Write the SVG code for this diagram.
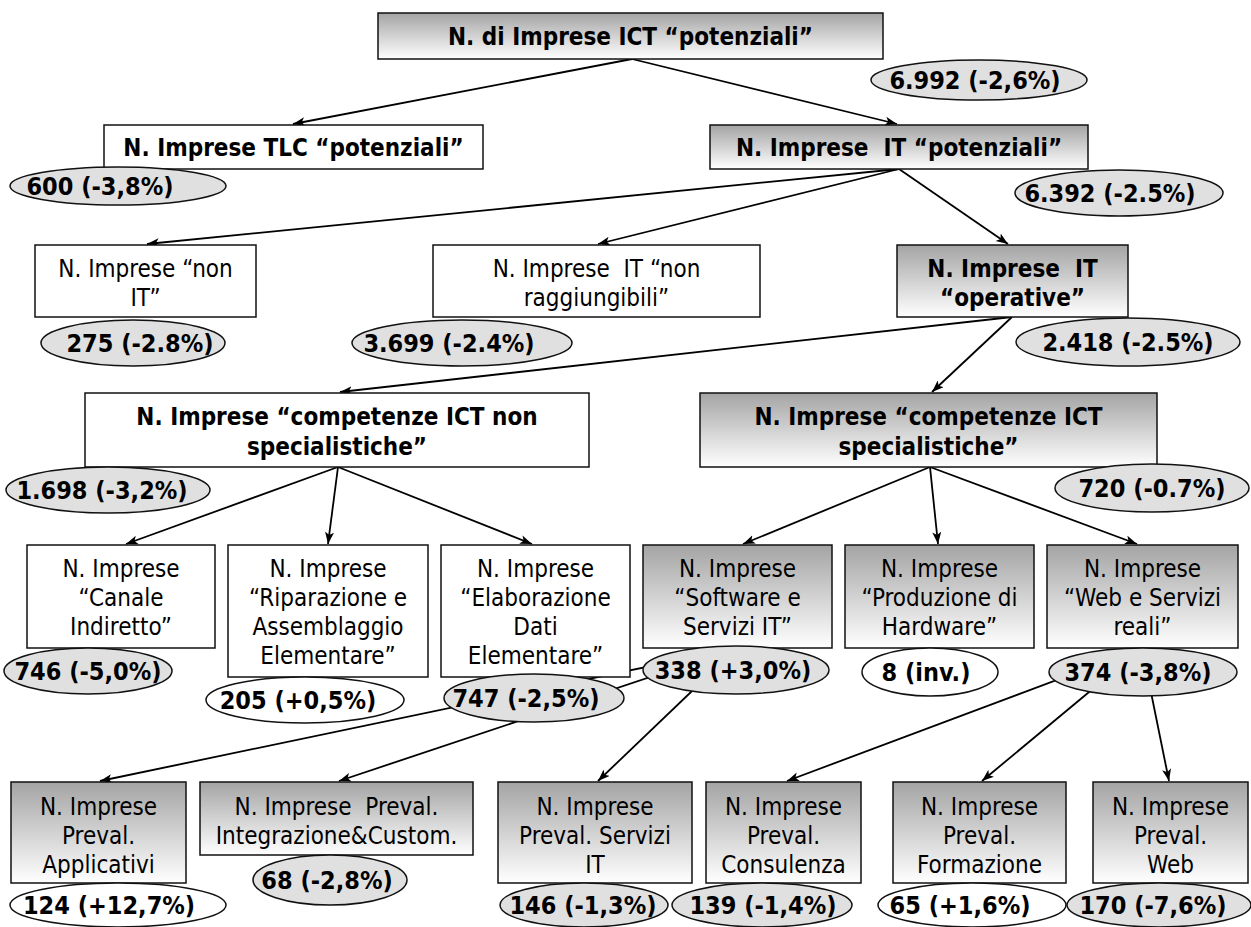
<svg xmlns="http://www.w3.org/2000/svg" width="1251" height="927" viewBox="0 0 1251 927">
<defs>
<linearGradient id="gr" x1="0" y1="0" x2="0" y2="1">
<stop offset="0" stop-color="#a4a4a4"/>
<stop offset="1" stop-color="#ffffff"/>
</linearGradient>
<marker id="ah" markerUnits="userSpaceOnUse" markerWidth="13" markerHeight="10" refX="12" refY="4.5" orient="auto">
<path d="M0,0 L12,4.5 L0,9 L3,4.5 Z" fill="#000"/>
</marker>
<style>
.bx{fill:#fff;stroke:#111;stroke-width:1.5}
.bg{fill:url(#gr);stroke:#111;stroke-width:1.5}
.eg{fill:#e0e0e0;stroke:#111;stroke-width:1.5}
.ew{fill:#fff;stroke:#111;stroke-width:1.5}
.tb{font-family:"DejaVu Sans Condensed","DejaVu Sans",sans-serif;font-stretch:condensed;font-weight:bold;font-size:24px;text-anchor:middle;fill:#000}
.tn{font-family:"DejaVu Sans Condensed","DejaVu Sans",sans-serif;font-stretch:condensed;font-size:24px;text-anchor:middle;fill:#000}
.te{font-family:"DejaVu Sans Condensed","DejaVu Sans",sans-serif;font-stretch:condensed;font-weight:bold;font-size:25px;text-anchor:middle;fill:#000}
.cn line{stroke:#000;stroke-width:1.8;marker-end:url(#ah)}
</style>
</defs>
<rect width="1251" height="927" fill="#fff"/>
<g id="connectors" class="cn">
<line x1="632" y1="59" x2="293" y2="124"/>
<line x1="632" y1="59" x2="897" y2="124"/>
<line x1="899" y1="169" x2="147" y2="244"/>
<line x1="899" y1="169" x2="598" y2="244"/>
<line x1="899" y1="169" x2="1008" y2="244"/>
<line x1="1012" y1="317" x2="340" y2="392"/>
<line x1="1012" y1="317" x2="932" y2="392"/>
<line x1="338" y1="467" x2="126" y2="544"/>
<line x1="338" y1="467" x2="328" y2="544"/>
<line x1="338" y1="467" x2="532" y2="544"/>
<line x1="930" y1="467" x2="743" y2="544"/>
<line x1="930" y1="467" x2="938" y2="544"/>
<line x1="930" y1="467" x2="1137" y2="544"/>
<line x1="737" y1="648" x2="100" y2="781"/>
<line x1="737" y1="648" x2="339" y2="781"/>
<line x1="737" y1="648" x2="598" y2="781"/>
<line x1="1142" y1="648" x2="787" y2="781"/>
<line x1="1142" y1="648" x2="982" y2="781"/>
<line x1="1142" y1="648" x2="1169" y2="781"/>
</g>
<g id="ict">
<rect class="bg" x="378" y="13" width="505" height="46"/>
<text class="tb" x="630.5" y="45">N. di Imprese ICT “potenziali”</text>
<ellipse class="eg" cx="979" cy="80" rx="108" ry="20"/>
<text class="te" x="975" y="89">6.992 (-2,6%)</text>
</g>
<g id="tlc">
<rect class="bx" x="104" y="125" width="379" height="44"/>
<text class="tb" x="293.5" y="156">N. Imprese TLC “potenziali”</text>
<ellipse class="eg" cx="118" cy="186" rx="108" ry="19"/>
<text class="te" x="100" y="195">600 (-3,8%)</text>
</g>
<g id="itpot">
<rect class="bg" x="710" y="125" width="378" height="44"/>
<text class="tb" x="899" y="156">N. Imprese&#160; IT “potenziali”</text>
<ellipse class="eg" cx="1119" cy="193" rx="104" ry="23"/>
<text class="te" x="1110" y="202">6.392 (-2.5%)</text>
</g>
<g id="nonit">
<rect class="bx" x="35" y="245" width="221" height="72"/>
<text class="tn" x="145.5" y="277">N. Imprese “non</text>
<text class="tn" x="145.5" y="306">IT”</text>
<ellipse class="eg" cx="133" cy="343" rx="92" ry="23"/>
<text class="te" x="140" y="352">275 (-2.8%)</text>
</g>
<g id="nonragg">
<rect class="bx" x="433" y="245" width="327" height="72"/>
<text class="tn" x="596.5" y="277">N. Imprese&#160; IT “non</text>
<text class="tn" x="596.5" y="306">raggiungibili”</text>
<ellipse class="eg" cx="462" cy="343" rx="110" ry="23"/>
<text class="te" x="449" y="352">3.699 (-2.4%)</text>
</g>
<g id="operative">
<rect class="bg" x="897" y="245" width="231" height="72"/>
<text class="tb" x="1012.5" y="277">N. Imprese&#160; IT</text>
<text class="tb" x="1012.5" y="306">“operative”</text>
<ellipse class="eg" cx="1128" cy="342" rx="112" ry="24"/>
<text class="te" x="1128" y="351">2.418 (-2.5%)</text>
</g>
<g id="nonspec">
<rect class="bx" x="85" y="393" width="504" height="74"/>
<text class="tb" x="337" y="425">N. Imprese “competenze ICT non</text>
<text class="tb" x="337" y="455">specialistiche”</text>
<ellipse class="eg" cx="108" cy="490" rx="102" ry="23"/>
<text class="te" x="102" y="499">1.698 (-3,2%)</text>
</g>
<g id="spec">
<rect class="bg" x="700" y="393" width="457" height="74"/>
<text class="tb" x="928.5" y="425">N. Imprese “competenze ICT</text>
<text class="tb" x="928.5" y="455">specialistiche”</text>
<ellipse class="eg" cx="1152" cy="488" rx="97" ry="24"/>
<text class="te" x="1152" y="497">720 (-0.7%)</text>
</g>
<g id="canale">
<rect class="bx" x="27" y="545" width="188" height="103"/>
<text class="tn" x="121" y="577">N. Imprese</text>
<text class="tn" x="121" y="606">“Canale</text>
<text class="tn" x="121" y="635">Indiretto”</text>
<ellipse class="eg" cx="88" cy="671" rx="84" ry="23"/>
<text class="te" x="88" y="680">746 (-5,0%)</text>
</g>
<g id="riparazione">
<rect class="bx" x="228" y="545" width="200" height="132"/>
<text class="tn" x="328" y="577">N. Imprese</text>
<text class="tn" x="328" y="606">“Riparazione e</text>
<text class="tn" x="328" y="635">Assemblaggio</text>
<text class="tn" x="328" y="664">Elementare”</text>
<ellipse class="ew" cx="305" cy="700" rx="99" ry="23"/>
<text class="te" x="298" y="709">205 (+0,5%)</text>
</g>
<g id="elaborazione">
<rect class="bx" x="441" y="545" width="189" height="132"/>
<text class="tn" x="535.5" y="577">N. Imprese</text>
<text class="tn" x="535.5" y="606">“Elaborazione</text>
<text class="tn" x="535.5" y="635">Dati</text>
<text class="tn" x="535.5" y="664">Elementare”</text>
<ellipse class="eg" cx="534" cy="698" rx="90" ry="24"/>
<text class="te" x="526" y="707">747 (-2,5%)</text>
</g>
<g id="software">
<rect class="bg" x="643" y="545" width="189" height="103"/>
<text class="tn" x="737.5" y="577">N. Imprese</text>
<text class="tn" x="737.5" y="606">“Software e</text>
<text class="tn" x="737.5" y="635">Servizi IT”</text>
<ellipse class="eg" cx="736" cy="670" rx="93" ry="24"/>
<text class="te" x="733" y="679">338 (+3,0%)</text>
</g>
<g id="hardware">
<rect class="bg" x="845" y="545" width="189" height="103"/>
<text class="tn" x="939.5" y="577">N. Imprese</text>
<text class="tn" x="939.5" y="606">“Produzione di</text>
<text class="tn" x="939.5" y="635">Hardware”</text>
<ellipse class="ew" cx="930" cy="672" rx="68" ry="24"/>
<text class="te" x="926" y="681">8 (inv.)</text>
</g>
<g id="webservizi">
<rect class="bg" x="1047" y="545" width="191" height="103"/>
<text class="tn" x="1142.5" y="577">N. Imprese</text>
<text class="tn" x="1142.5" y="606">“Web e Servizi</text>
<text class="tn" x="1142.5" y="635">reali”</text>
<ellipse class="eg" cx="1143" cy="672" rx="94" ry="24"/>
<text class="te" x="1138" y="681">374 (-3,8%)</text>
</g>
<g id="applicativi">
<rect class="bg" x="11" y="782" width="175" height="101"/>
<text class="tn" x="98.5" y="815">N. Imprese</text>
<text class="tn" x="98.5" y="844">Preval.</text>
<text class="tn" x="98.5" y="873">Applicativi</text>
<ellipse class="ew" cx="118" cy="905" rx="108" ry="22"/>
<text class="te" x="109" y="914">124 (+12,7%)</text>
</g>
<g id="integrazione">
<rect class="bg" x="200" y="782" width="273" height="73"/>
<text class="tn" x="336.5" y="815">N. Imprese&#160; Preval.</text>
<text class="tn" x="336.5" y="844">Integrazione&amp;Custom.</text>
<ellipse class="eg" cx="330" cy="880" rx="77" ry="25"/>
<text class="te" x="327" y="889">68 (-2,8%)</text>
</g>
<g id="serviziit">
<rect class="bg" x="498" y="782" width="194" height="101"/>
<text class="tn" x="595" y="815">N. Imprese</text>
<text class="tn" x="595" y="844">Preval. Servizi</text>
<text class="tn" x="595" y="873">IT</text>
<ellipse class="eg" cx="584" cy="905" rx="84" ry="22"/>
<text class="te" x="583" y="914">146 (-1,3%)</text>
</g>
<g id="consulenza">
<rect class="bg" x="706" y="782" width="155" height="101"/>
<text class="tn" x="783.5" y="815">N. Imprese</text>
<text class="tn" x="783.5" y="844">Preval.</text>
<text class="tn" x="783.5" y="873">Consulenza</text>
<ellipse class="eg" cx="762" cy="905" rx="90" ry="22"/>
<text class="te" x="763" y="914">139 (-1,4%)</text>
</g>
<g id="formazione">
<rect class="bg" x="893" y="782" width="173" height="101"/>
<text class="tn" x="979.5" y="815">N. Imprese</text>
<text class="tn" x="979.5" y="844">Preval.</text>
<text class="tn" x="979.5" y="873">Formazione</text>
<ellipse class="ew" cx="972" cy="905" rx="94" ry="22"/>
<text class="te" x="960" y="914">65 (+1,6%)</text>
</g>
<g id="web">
<rect class="bg" x="1093" y="782" width="155" height="101"/>
<text class="tn" x="1170.5" y="815">N. Imprese</text>
<text class="tn" x="1170.5" y="844">Preval.</text>
<text class="tn" x="1170.5" y="873">Web</text>
<ellipse class="eg" cx="1159" cy="905" rx="92" ry="22"/>
<text class="te" x="1153" y="914">170 (-7,6%)</text>
</g>
</svg>
